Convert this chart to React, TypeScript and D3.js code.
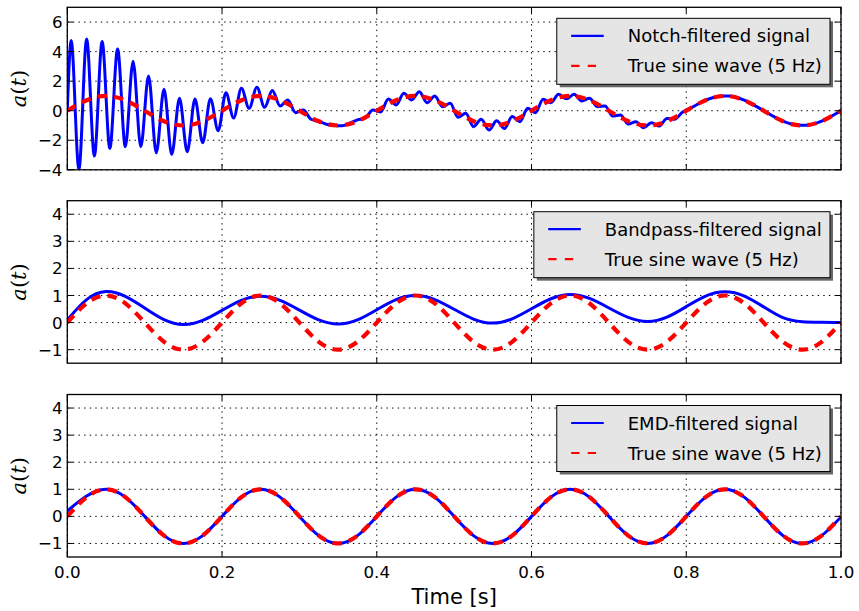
import React from "react";
import * as d3 from "d3";

// ---------- data ----------
const sampleTimes = d3.range(41).map((i) => i / 40);

const trueSine = [
  0, 0.71, 1, 0.71, 0, -0.71, -1, -0.71,
  0, 0.71, 1, 0.71, 0, -0.71, -1, -0.71,
  0, 0.71, 1, 0.71, 0, -0.71, -1, -0.71,
  0, 0.71, 1, 0.71, 0, -0.71, -1, -0.71,
  0, 0.71, 1, 0.71, 0, -0.71, -1, -0.71,
  0,
];

const bandpassSignal = [
  0.1, 0.85, 1.15, 0.97, 0.54, 0.11, -0.07, 0.08, 0.45, 0.82,
  0.97, 0.82, 0.46, 0.1, -0.05, 0.1, 0.475, 0.85, 1.0, 0.85,
  0.49, 0.13, -0.02, 0.14, 0.51, 0.88, 1.04, 0.89, 0.54, 0.19,
  0.04, 0.2, 0.59, 0.98, 1.14, 0.98, 0.58, 0.18, 0.03, 0.01,
  0.0,
];

const emdSignal = [
  0.2, 0.75, 1, 0.71, 0, -0.71, -1, -0.71,
  0, 0.71, 1, 0.71, 0, -0.71, -1, -0.71,
  0, 0.71, 1, 0.71, 0, -0.71, -1, -0.71,
  0, 0.71, 1, 0.71, 0, -0.71, -1, -0.71,
  0, 0.71, 1, 0.71, 0, -0.71, -1, -0.71,
  -0.02,
];

// notch signal read at its 50 Hz extrema (t = 0, 0.005, 0.015, ..., 0.995, 1)
const notchTimes = [0, ...d3.range(100).map((k) => 0.005 + 0.01 * k), 1];
const notchSignal = [
  0.0,
  4.75, -3.97, 4.86, -3.07, 4.68, -2.55, 4.18, -2.44, 3.35, -2.44,
  2.35, -2.85, 1.45, -2.96, 0.84, -2.78, 0.79, -2.17, 0.81, -1.36,
  1.22, -0.5, 1.52, 0.16, 1.59, 0.23, 1.36, 0.32, 0.73, -0.13,
  0.05, -0.58, -0.72, -0.92, -1.0, -1.02, -0.85, -0.62, -0.5, 0.05,
  -0.08, 0.79, 0.39, 1.18, 0.73, 1.29, 0.54, 1.0, 0.27, 0.5,
  -0.45, -0.18, -1.08, -0.58, -1.31, -0.68, -1.2, -0.4, -0.74, 0.16,
  -0.13, 0.77, 0.54, 1.11, 0.81, 1.11, 0.66, 0.84, 0.27, 0.32,
  -0.36, -0.29, -0.9, -0.74, -1.15, -0.81, -1.04, -0.52, -0.58, -0.1,
  0.16, 0.45, 0.71, 0.89, 0.99, 0.99, 0.89, 0.71, 0.45, 0.16,
  -0.16, -0.45, -0.71, -0.89, -0.99, -0.99, -0.89, -0.71, -0.45, -0.16,
  0.0,
];

const xTicks = [0, 0.2, 0.4, 0.6, 0.8, 1.0];
const xTickLabels = ["0.0", "0.2", "0.4", "0.6", "0.8", "1.0"];
const topYTicks = [-4, -2, 0, 2, 4, 6];
const lowerYTicks = [-1, 0, 1, 2, 3, 4];
const signalLabels = ["Notch-filtered signal", "Bandpass-filtered signal", "EMD-filtered signal"];
const sineLabel = "True sine wave (5 Hz)";
const xLabel = "Time [s]";

// ---------- layout ----------
const W = 859;
const H = 611;
const X0 = 67.3;
const X1 = 841;
const PANEL_H = 162.5;
const FONT = "'DejaVu Sans', sans-serif";

const panels = [
  { top: 7.3, domain: [-4, 7], ticks: topYTicks, t: notchTimes, v: notchSignal, curve: d3.curveMonotoneX, label: signalLabels[0], showX: false },
  { top: 200.7, domain: [-1.5, 4.5], ticks: lowerYTicks, t: sampleTimes, v: bandpassSignal, curve: d3.curveNatural, label: signalLabels[1], showX: false },
  { top: 394.5, domain: [-1.5, 4.5], ticks: lowerYTicks, t: sampleTimes, v: emdSignal, curve: d3.curveNatural, label: signalLabels[2], showX: true },
];

function measureText(s: string, font: string): number {
  if (typeof document === "undefined") return s.length * 10;
  const c = document.createElement("canvas").getContext("2d");
  if (!c) return s.length * 10;
  c.font = font;
  return c.measureText(s).width;
}

const fmt = (v: number) => (v < 0 ? "\u2212" + Math.abs(v) : String(v));

export default function App() {
  const x = d3.scaleLinear().domain([0, 1]).range([X0, X1]);

  return (
    <svg
      width={W}
      height={H}
      style={{ position: "absolute", left: 0, top: 0, background: "#fff" }}
      fontFamily={FONT}
    >
      <rect x={0} y={0} width={W} height={H} fill="#fff" />
      {panels.map((p, pi) => {
        const y = d3.scaleLinear().domain(p.domain).range([p.top + PANEL_H, p.top]);
        const bottom = p.top + PANEL_H;
        const sigLine = d3
          .line<number>()
          .x((_, i) => x(p.t[i]))
          .y((d) => y(d))
          .curve(p.curve)(p.v) as string;
        const sineLine = d3
          .line<number>()
          .x((_, i) => x(sampleTimes[i]))
          .y((d) => y(d))
          .curve(d3.curveNatural)(trueSine) as string;
        const legendFont = `18px ${FONT}`;
        const maxW = Math.max(measureText(p.label, legendFont), measureText(sineLabel, legendFont));
        const boxR = 830;
        const boxL = boxR - 8.3 - maxW - 71;
        const boxT = p.top + 11;
        const boxH = 66;
        const row1 = boxT + 17.5;
        const row2 = boxT + 47.5;
        const clipId = `clip${pi}`;
        return (
          <g key={pi}>
            <defs>
              <clipPath id={clipId}>
                <rect x={X0} y={p.top} width={X1 - X0} height={PANEL_H} />
              </clipPath>
            </defs>
            {/* grid */}
            <g stroke="#000" strokeWidth={1} strokeDasharray="1.4,4.2" fill="none">
              {xTicks.map((t) => (
                <line key={"gx" + t} x1={x(t)} x2={x(t)} y1={p.top} y2={bottom} />
              ))}
              {p.ticks.map((t) => (
                <line key={"gy" + t} x1={X0} x2={X1} y1={y(t)} y2={y(t)} />
              ))}
            </g>
            {/* lines */}
            <g clipPath={`url(#${clipId})`}>
              <path d={sigLine} fill="none" stroke="#0000ff" strokeWidth={3} strokeLinejoin="round" />
              <path d={sineLine} fill="none" stroke="#ff0000" strokeWidth={4.2} strokeDasharray="9.5,7.2" />
            </g>
            {/* frame */}
            <rect x={X0} y={p.top} width={X1 - X0} height={PANEL_H} fill="none" stroke="#000" strokeWidth={1.3} />
            {/* ticks */}
            <g stroke="#000" strokeWidth={1}>
              {xTicks.map((t) => (
                <g key={"tx" + t}>
                  <line x1={x(t)} x2={x(t)} y1={bottom} y2={bottom - 5.6} />
                  <line x1={x(t)} x2={x(t)} y1={p.top} y2={p.top + 5.6} />
                </g>
              ))}
              {p.ticks.map((t) => (
                <g key={"ty" + t}>
                  <line x1={X0} x2={X0 + 5.6} y1={y(t)} y2={y(t)} />
                  <line x1={X1} x2={X1 - 5.6} y1={y(t)} y2={y(t)} />
                </g>
              ))}
            </g>
            {/* y tick labels */}
            <g fontSize={16.7} fill="#000" textAnchor="end">
              {p.ticks.map((t) => (
                <text key={"yl" + t} x={62.5} y={y(t)} dy="0.36em">
                  {fmt(t)}
                </text>
              ))}
            </g>
            {/* x tick labels */}
            {p.showX && (
              <g fontSize={16.7} fill="#000" textAnchor="middle">
                {xTicks.map((t, i) => (
                  <text key={"xl" + t} x={x(t)} y={578}>
                    {xTickLabels[i]}
                  </text>
                ))}
              </g>
            )}
            {/* y label */}
            <text
              transform={`translate(26,${p.top + PANEL_H / 2}) rotate(-90)`}
              textAnchor="middle"
              fontSize={21}
              fontFamily="'DejaVu Serif', serif"
            >
              <tspan fontStyle="italic">a</tspan>
              <tspan>(</tspan>
              <tspan fontStyle="italic">t</tspan>
              <tspan>)</tspan>
            </text>
            {/* legend */}
            <rect x={boxL + 3} y={boxT + 3} width={boxR - boxL} height={boxH} fill="#4d4d4d" opacity={0.85} />
            <rect x={boxL} y={boxT} width={boxR - boxL} height={boxH} fill="#e5e5e5" stroke="#000" strokeWidth={1} />
            <line x1={boxL + 14.4} x2={boxL + 47} y1={row1} y2={row1} stroke="#0000ff" strokeWidth={2.2} />
            <line x1={boxL + 14.4} x2={boxL + 47} y1={row2} y2={row2} stroke="#ff0000" strokeWidth={2.2} strokeDasharray="8.3,8.3" />
            <text x={boxL + 71} y={row1 + 6.5} fontSize={18} fill="#000">
              {p.label}
            </text>
            <text x={boxL + 71} y={row2 + 6.5} fontSize={18} fill="#000">
              {sineLabel}
            </text>
          </g>
        );
      })}
      <text x={(X0 + X1) / 2} y={604} textAnchor="middle" fontSize={21} fill="#000">
        {xLabel}
      </text>
    </svg>
  );
}
